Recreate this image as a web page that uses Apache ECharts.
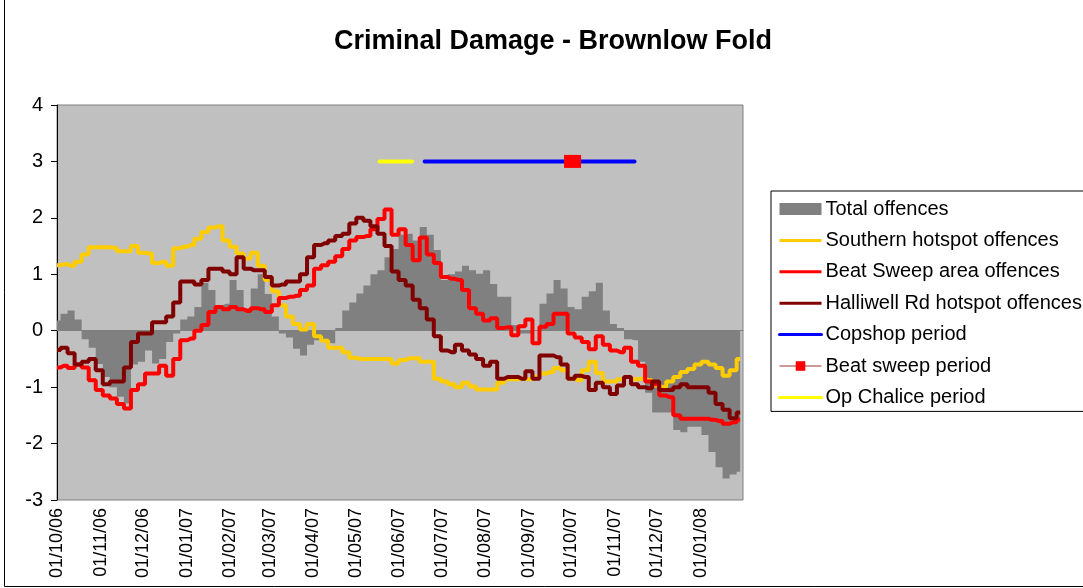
<!DOCTYPE html>
<html>
<head>
<meta charset="utf-8">
<script src="https://cdn.jsdelivr.net/npm/echarts@6/dist/echarts.min.js"></script>
<style>
html,body{margin:0;padding:0;background:#fff;}
#chart{width:1083px;height:588px;}
</style>
</head>
<body>
<div id="chart"></div>
<script>
// ---- data ----
const startDate = [2006, 9, 1];      // 01/10/06
const endDate = [2008, 0, 31];
const stepDays = 5;                  // samples every 5 days from start

const totalOffences = [0.18,0.3,0.36,0.2,-0.15,-0.3,-0.59,-0.82,-1.0,-1.17,
  -1.29,-0.6,-0.55,-0.35,-0.58,-0.5,-0.2,-0.05,0.2,0.25,
  0.42,0.85,0.72,0.45,0.48,0.9,0.72,0.4,0.75,1.0,
  0.65,0.25,-0.05,-0.12,-0.32,-0.44,-0.25,-0.17,-0.2,-0.22,
  0.05,0.36,0.5,0.66,0.8,1.0,1.07,1.3,1.45,1.7,
  1.72,1.6,1.84,1.7,1.43,0.9,1.0,1.05,1.15,1.07,
  1.01,1.07,0.83,0.6,0.6,0.1,-0.05,-0.05,0.0,0.48,
  0.66,0.9,0.75,0.42,0.38,0.6,0.7,0.85,0.36,0.12,
  0.05,-0.15,-0.17,-0.55,-1.1,-1.45,-1.45,-1.45,-1.76,-1.8,
  -1.7,-1.7,-1.85,-2.15,-2.42,-2.62,-2.55,-2.5];

const southern = [1.16,1.18,1.15,1.22,1.35,1.48,1.48,1.48,1.47,1.41,
  1.41,1.5,1.38,1.37,1.2,1.22,1.15,1.46,1.49,1.52,
  1.63,1.75,1.83,1.85,1.6,1.49,1.37,1.28,1.38,1.15,
  0.9,0.7,0.45,0.25,0.12,0.02,0.12,-0.1,-0.18,-0.3,
  -0.3,-0.38,-0.48,-0.5,-0.5,-0.5,-0.5,-0.5,-0.58,-0.52,
  -0.49,-0.49,-0.55,-0.55,-0.85,-0.9,-0.95,-1.0,-0.92,-0.99,
  -1.04,-1.04,-1.04,-0.92,-0.86,-0.86,-0.85,-0.86,-0.82,-0.76,
  -0.73,-0.66,-0.7,-0.85,-0.88,-0.7,-0.55,-0.75,-0.9,-0.9,
  -0.86,-0.82,-0.86,-0.85,-0.88,-0.97,-1.0,-0.9,-0.82,-0.73,
  -0.68,-0.6,-0.55,-0.6,-0.66,-0.8,-0.7,-0.5];

const beatSweepArea = [-0.65,-0.62,-0.66,-0.6,-0.65,-0.88,-1.05,-1.15,-1.2,-1.3,
  -1.38,-1.05,-0.95,-0.76,-0.76,-0.62,-0.8,-0.5,-0.17,-0.14,
  0.0,0.1,0.33,0.42,0.38,0.42,0.38,0.35,0.4,0.38,
  0.33,0.45,0.58,0.6,0.62,0.72,0.8,1.1,1.16,1.22,
  1.32,1.45,1.6,1.66,1.68,1.8,1.98,2.15,1.7,1.8,
  1.52,1.25,1.65,1.35,1.2,0.95,0.92,0.9,0.72,0.4,
  0.3,0.18,0.22,0.05,0.06,-0.08,0.08,0.2,-0.22,0.07,
  0.12,0.3,0.3,-0.05,-0.12,-0.2,-0.33,-0.1,-0.25,-0.35,
  -0.38,-0.3,-0.55,-0.62,-0.9,-0.95,-1.15,-1.18,-1.5,-1.56,
  -1.56,-1.56,-1.56,-1.58,-1.6,-1.65,-1.62,-1.58];

const halliwell = [-0.34,-0.3,-0.4,-0.6,-0.55,-0.5,-0.7,-0.95,-0.9,-0.9,
  -0.65,-0.2,-0.05,-0.05,0.15,0.15,0.25,0.5,0.87,0.87,
  0.82,0.9,1.1,1.1,1.05,1.0,1.3,1.1,1.07,1.07,
  0.95,0.8,0.82,0.87,0.87,1.0,1.3,1.52,1.55,1.6,
  1.68,1.72,1.9,2.0,1.95,1.85,1.72,1.5,1.05,0.9,
  0.8,0.55,0.4,0.2,-0.1,-0.35,-0.38,-0.25,-0.35,-0.42,
  -0.5,-0.62,-0.55,-0.85,-0.82,-0.82,-0.85,-0.72,-0.85,-0.44,
  -0.44,-0.47,-0.6,-0.85,-0.8,-0.82,-1.05,-0.92,-1.0,-1.12,
  -0.97,-0.82,-0.95,-1.0,-1.02,-0.9,-1.05,-1.05,-1.0,-0.95,
  -1.0,-1.0,-1.0,-1.1,-1.3,-1.4,-1.55,-1.45];

const periodLevel = 3;
const opChalicePeriod = [[2007, 4, 18], [2007, 5, 10]];
const copshopPeriod = [[2007, 5, 19], [2007, 10, 15]];
const beatSweepPeriod = [[2007, 9, 2]];

const yTicks = {min: -3, max: 4, interval: 1};

// ---- build ----
function ts(a){ return new Date(a[0], a[1], a[2]).getTime(); }
function dayTs(d){ return new Date(startDate[0], startDate[1], startDate[2] + d).getTime(); }
function pairs(vals){ return vals.map((v, i) => [dayTs(i * stepDays), v]); }
function periodPairs(p){ return p.map(a => [ts(a), periodLevel]); }
function pad(n){ return (n < 10 ? '0' : '') + n; }

const font = 'Liberation Sans, Arial, sans-serif';
const LW = 4;
const hideSym = {opacity: 0};
const chart = echarts.init(document.getElementById('chart'));
chart.setOption({
  animation: false,
  backgroundColor: '#fff',
  title: {
    text: 'Criminal Damage - Brownlow Fold',
    left: 548, top: 23, textAlign: 'center',
    textStyle: {fontFamily: font, fontSize: 27, fontWeight: 'bold', color: '#000'}
  },
  graphic: [{
    type: 'rect', shape: {x: 4.5, y: -2, width: 1100, height: 588.5},
    style: {fill: 'none', stroke: '#000', lineWidth: 1}, silent: true
  }],
  grid: {left: 57, top: 105, right: 340, bottom: 88, show: true,
    backgroundColor: '#C0C0C0', borderColor: '#808080', borderWidth: 1},
  legend: {
    orient: 'vertical', left: 771, top: 191,
    itemWidth: 42, itemHeight: 12, itemGap: 11.4,
    padding: [8, 12, 4, 7],
    backgroundColor: '#fff', borderColor: '#000', borderWidth: 1,
    lineStyle: {width: 3},
    textStyle: {fontFamily: font, fontSize: 20, color: '#000', padding: [0, 0, 0, -1]},
    data: [
      {name: 'Total offences', icon: 'rect', itemStyle: {color: '#808080'}},
      {name: 'Southern hotspot offences', itemStyle: hideSym},
      {name: 'Beat Sweep area offences', itemStyle: hideSym},
      {name: 'Halliwell Rd hotspot offences', itemStyle: hideSym},
      {name: 'Copshop period', itemStyle: hideSym},
      {name: 'Beat sweep period', lineStyle: {width: 1}},
      {name: 'Op Chalice period', itemStyle: hideSym}
    ]
  },
  xAxis: {
    type: 'time', min: ts(startDate), max: ts(endDate),
    minInterval: 28 * 86400000, maxInterval: 31 * 86400000,
    axisLine: {show: true, lineStyle: {color: '#808080', width: 1}},
    axisTick: {show: false},
    splitLine: {show: false},
    axisLabel: {
      rotate: 90, margin: 8, fontFamily: font, fontSize: 18, color: '#000',
      formatter: function (val) {
        const d = new Date(val);
        return pad(d.getDate()) + '/' + pad(d.getMonth() + 1) + '/' + pad(d.getFullYear() % 100);
      }
    }
  },
  yAxis: {
    type: 'value', min: yTicks.min, max: yTicks.max, interval: yTicks.interval,
    axisLine: {show: true, lineStyle: {color: '#000', width: 1}},
    axisTick: {show: true, length: 6, lineStyle: {color: '#000'}},
    splitLine: {show: false},
    axisLabel: {fontFamily: font, fontSize: 20, color: '#000', margin: 14}
  },
  series: [
    {name: 'Total offences', type: 'line', step: 'middle', data: pairs(totalOffences),
     symbol: 'none', lineStyle: {width: 0, color: '#808080'}, itemStyle: {color: '#808080'},
     areaStyle: {color: '#808080', opacity: 1}, z: 1},
    {name: 'Southern hotspot offences', type: 'line', step: 'middle', data: pairs(southern),
     symbol: 'none', lineStyle: {width: LW, color: '#FFCC00'}, itemStyle: {color: '#FFCC00'}, z: 2},
    {name: 'Beat Sweep area offences', type: 'line', step: 'middle', data: pairs(beatSweepArea),
     symbol: 'none', lineStyle: {width: LW, color: '#FF0000'}, itemStyle: {color: '#FF0000'}, z: 3},
    {name: 'Halliwell Rd hotspot offences', type: 'line', step: 'middle', data: pairs(halliwell),
     symbol: 'none', lineStyle: {width: LW, color: '#800000'}, itemStyle: {color: '#800000'}, z: 4},
    {name: 'Copshop period', type: 'line', data: periodPairs(copshopPeriod),
     symbol: 'none', lineStyle: {width: LW, color: '#0000FF', cap: 'round'}, itemStyle: {color: '#0000FF'}, z: 5},
    {name: 'Beat sweep period', type: 'line', data: periodPairs(beatSweepPeriod),
     symbol: 'rect', symbolSize: [17, 13], showSymbol: true,
     lineStyle: {width: 1, color: '#A03030'}, itemStyle: {color: '#FF0000'}, z: 6},
    {name: 'Op Chalice period', type: 'line', data: periodPairs(opChalicePeriod),
     symbol: 'none', lineStyle: {width: LW, color: '#FFFF00', cap: 'round'}, itemStyle: {color: '#FFFF00'}, z: 5}
  ]
});
</script>
</body>
</html>
